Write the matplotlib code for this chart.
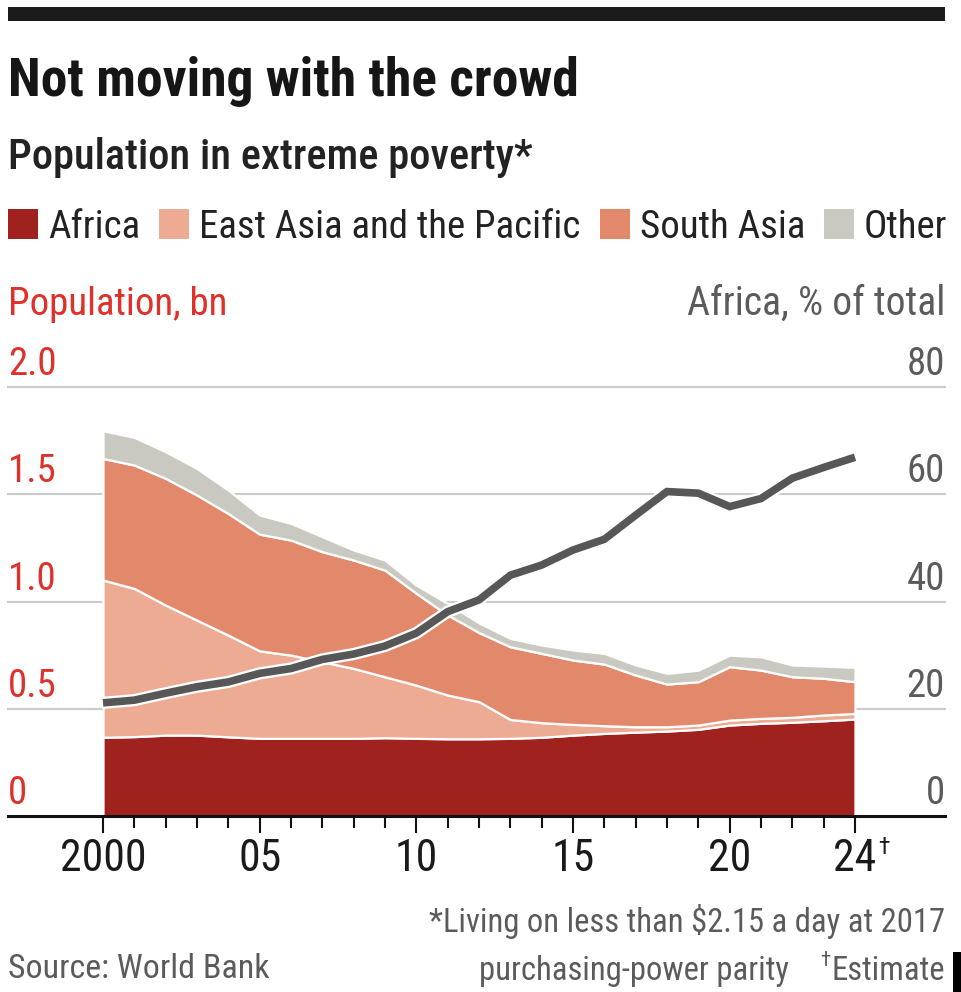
import numpy as np
import matplotlib
matplotlib.use('Agg')
import matplotlib.pyplot as plt
import matplotlib.patheffects as pe
from matplotlib.patches import Rectangle
from matplotlib import font_manager as fm

# ── DATA ─────────────────────────────────────────────────────────
years = list(range(2000, 2025))

africa = [0.367, 0.370, 0.377, 0.377, 0.369, 0.362, 0.362, 0.362, 0.362, 0.365,
          0.362, 0.360, 0.360, 0.362, 0.367, 0.377, 0.385, 0.391, 0.396, 0.404,
          0.424, 0.432, 0.437, 0.444, 0.452]
east_asia = [0.733, 0.691, 0.606, 0.536, 0.474, 0.408, 0.388, 0.357, 0.326, 0.284,
             0.248, 0.204, 0.173, 0.088, 0.068, 0.050, 0.036, 0.025, 0.020, 0.020,
             0.023, 0.023, 0.023, 0.027, 0.026]
south_asia = [0.567, 0.575, 0.591, 0.583, 0.567, 0.544, 0.536, 0.513, 0.505, 0.497,
              0.428, 0.373, 0.322, 0.339, 0.323, 0.300, 0.287, 0.241, 0.199, 0.202,
              0.249, 0.225, 0.189, 0.171, 0.148]
other = [0.129, 0.129, 0.124, 0.124, 0.109, 0.089, 0.078, 0.070, 0.047, 0.047,
         0.038, 0.054, 0.045, 0.039, 0.039, 0.047, 0.050, 0.047, 0.050, 0.054,
         0.054, 0.062, 0.055, 0.057, 0.067]
africa_share = [21.1, 21.6, 22.9, 24.1, 25.0, 26.6, 27.5, 29.2, 30.2, 31.7,
                34.1, 38.1, 40.3, 44.9, 46.8, 49.6, 51.6, 56.1, 60.5, 60.2,
                57.7, 59.2, 63.0, 65.0, 66.9]

series_names = ['Africa', 'East Asia and the Pacific', 'South Asia', 'Other']
series_colors = ['#a0221f', '#eeab93', '#e3896b', '#c9c9c1']

left_ticks = [0, 0.5, 1.0, 1.5, 2.0]
left_labels = ['0', '0.5', '1.0', '1.5', '2.0']
right_ticks = [0, 20, 40, 60, 80]
right_labels = ['0', '20', '40', '60', '80']
x_major = [2000, 2005, 2010, 2015, 2020, 2024]
x_labels = ['2000', '05', '10', '15', '20', '24']

# ── FONT: condensed face if there is one ─────────────────────────
installed = {f.name for f in fm.fontManager.ttflist}
PREFER = ['Roboto Condensed', 'Archivo Narrow', 'Liberation Sans Narrow',
          'Roboto']
FACE = next(n for n in PREFER if n in installed)
plt.rcParams['font.family'] = [FACE, 'DejaVu Sans']

RED = '#e0302a'
GREY_TXT = '#5b5b5b'

W, H = 962, 992
fig = plt.figure(figsize=(W / 100, H / 100), dpi=100)
fig.patch.set_facecolor('white')
renderer = fig.canvas.get_renderer()


def ftext(x, y, s, **kw):
    """text placed by pixel coords (from top-left), baseline aligned"""
    kw.setdefault('va', 'baseline')
    return fig.text(x / W, 1 - y / H, s, **kw)


# top rule
fig.add_artist(Rectangle((8 / W, 1 - 21 / H), 937 / W, 14 / H,
                         transform=fig.transFigure, color='#1b1b1b', lw=0))

ftext(8, 96, 'Not moving with the crowd', fontsize=38.5, fontweight='bold',
      color='#161616')
ftext(8, 169, 'Population in extreme poverty*', fontsize=30.5, color='#222222',
      fontweight='medium')

# ── LEGEND (manual row of squares) ───────────────────────────────
x = 8
for name, col in zip(series_names, series_colors):
    fig.add_artist(Rectangle((x / W, 1 - 239 / H), 30 / W, 30 / H,
                             transform=fig.transFigure, color=col, lw=0))
    t = ftext(x + 40, 238, name, fontsize=28, color='#222222')
    bb = t.get_window_extent(renderer=renderer)
    x = bb.x1 + 19

ftext(8, 315, 'Population, bn', fontsize=28, color=RED)
ftext(945, 315, 'Africa, % of total', fontsize=28.5, color=GREY_TXT, ha='right')

# ── AXES ─────────────────────────────────────────────────────────
ax = fig.add_axes([8 / W, 1 - 816 / H, 937 / W, (816 - 387) / H])
ax.set_xlim(2000 - 95 / 31.333, 2024 + 90 / 31.333)
ax.set_ylim(0, 2.0)
for sp in ax.spines.values():
    sp.set_visible(False)
ax.set_yticks([])

for v in left_ticks[1:]:
    ax.axhline(v, color='#cbcbcb', lw=1.5, zorder=0, clip_on=False)

ax.stackplot(years, africa, east_asia, south_asia, other,
             colors=series_colors, edgecolor='white', linewidth=1.6, zorder=2)

ax.axhline(0, color='#111111', lw=2.2, zorder=5, clip_on=False)

# y labels above gridlines
for v, lab in zip(left_ticks, left_labels):
    ax.annotate(lab, xy=(0, v), xycoords=('axes fraction', 'data'),
                xytext=(0, 8.5), textcoords='offset points', ha='left',
                va='baseline', fontsize=28, color=RED)
for v, lab in zip(right_ticks, right_labels):
    ax.annotate(lab, xy=(1, v / 40.0), xycoords=('axes fraction', 'data'),
                xytext=(0, 8.5), textcoords='offset points', ha='right',
                va='baseline', fontsize=28, color=GREY_TXT)

# x ticks
ax.set_xticks(x_major, x_labels)
ax.set_xticks(years, minor=True)
ax.tick_params(axis='x', which='major', length=12, width=1.5, color='#111111',
               pad=4, labelsize=31.5, labelcolor='#1a1a1a')
ax.tick_params(axis='x', which='minor', length=8.5, width=1.5, color='#111111')
ax.annotate('†', xy=(2024, 0), xycoords='data', xytext=(16.5, -14.5),
            textcoords='offset points', ha='left', va='top', fontsize=17,
            color='#1a1a1a')

# share line on twin axis
ax2 = ax.twinx()
ax2.set_ylim(0, 80)
ax2.set_xlim(ax.get_xlim())
ax2.axis('off')
ax2.plot(years, africa_share, color='#575757', lw=5.5, solid_capstyle='butt',
         solid_joinstyle='miter', zorder=6,
         path_effects=[pe.Stroke(linewidth=8.8, foreground='white'), pe.Normal()])

# ── FOOTNOTES ────────────────────────────────────────────────────
ftext(945, 932, '*Living on less than $2.15 a day at 2017', fontsize=23.5,
      color=GREY_TXT, ha='right')
est = ftext(945, 980, 'Estimate', fontsize=23.5, color=GREY_TXT, ha='right')
ex0 = est.get_window_extent(renderer=renderer).x0
ftext(ex0 - 1, 966, '\u2020', fontsize=15, color=GREY_TXT, ha='right')
ftext(ex0 - 42, 980, 'purchasing-power parity', fontsize=23.5, color=GREY_TXT,
      ha='right')
ftext(8, 978, 'Source: World Bank', fontsize=24.5, color=GREY_TXT)

# stray dark edge at bottom right of the source image
fig.add_artist(Rectangle((953 / W, 0), 9 / W, 40 / H,
                         transform=fig.transFigure, color='black', lw=0))

fig.savefig('out.png', dpi=100, facecolor='white')
